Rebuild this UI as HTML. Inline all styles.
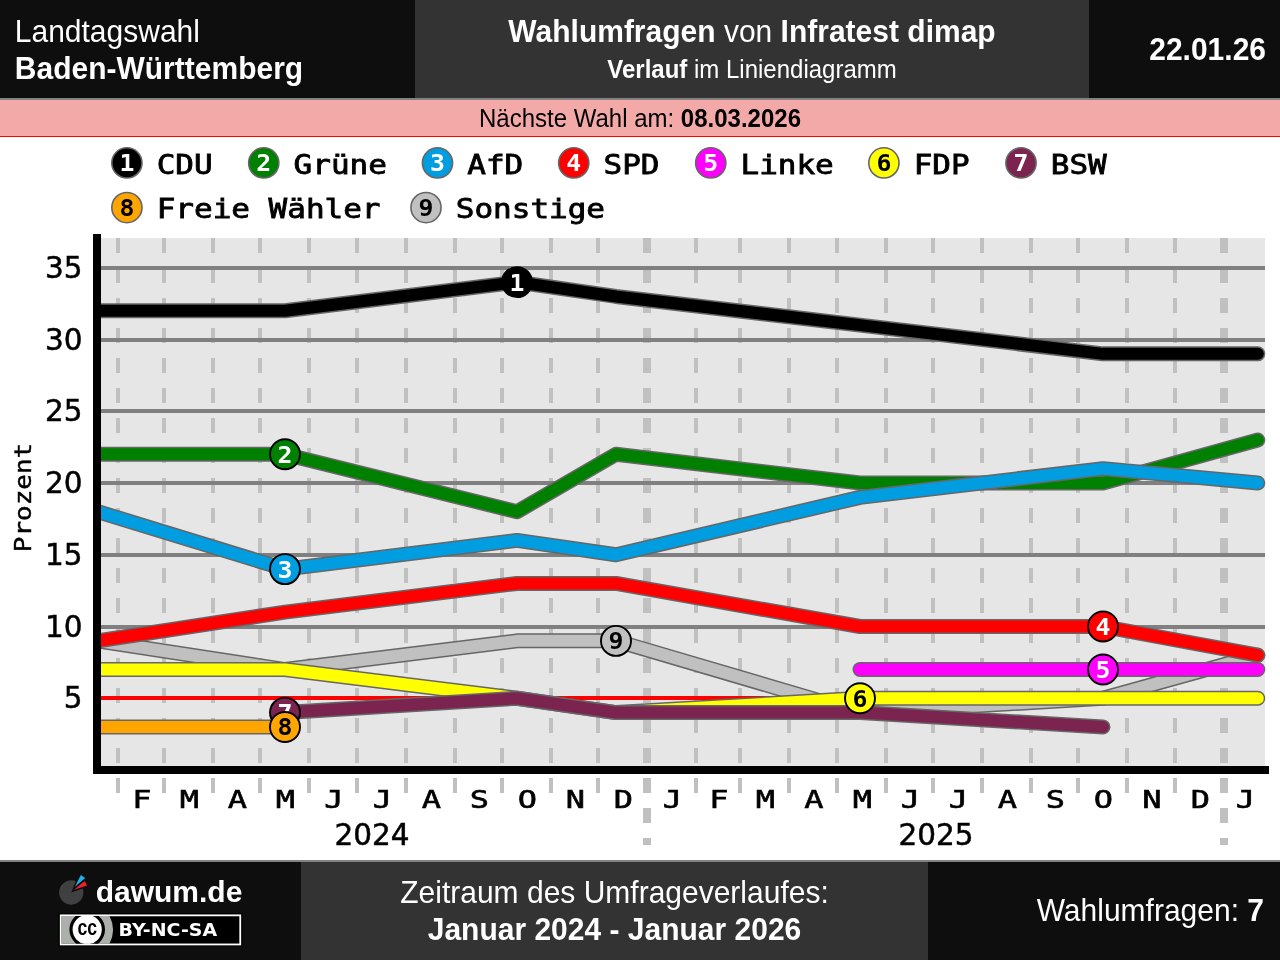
<!DOCTYPE html>
<html lang="de"><head><meta charset="utf-8"><title>Wahlumfragen Baden-Württemberg</title>
<style>
html,body{margin:0;padding:0;background:#fff;}
body{width:1280px;height:960px;position:relative;overflow:hidden;font-family:"Liberation Sans",sans-serif;color:#fff;}
.abs{position:absolute;}
.hd{top:0;height:98px;background:#0e0e0e;}
.ft{top:862px;height:98px;background:#0e0e0e;}
.mid{background:#333;}
.t{white-space:nowrap;line-height:1;transform:scaleY(1.04);transform-origin:0 84.65%;}
</style></head><body>
<div class="abs hd" style="left:0;width:1280px"></div>
<div class="abs hd mid" style="left:415px;width:674px"></div>
<div class="abs" style="left:0;top:98px;width:1280px;height:2px;background:#828282"></div>
<div class="abs" style="left:0;top:100px;width:1280px;height:36px;background:#f4a9a9"></div>
<div class="abs" style="left:0;top:136px;width:1280px;height:1px;background:#f00"></div>
<div class="abs t" style="left:14.8px;top:16.6px;font-size:30px">Landtagswahl</div>
<div class="abs t" style="left:14.8px;top:53.6px;font-size:30px;font-weight:bold">Baden-Württemberg</div>
<div class="abs t" style="left:415px;width:674px;top:16.6px;font-size:30px;text-align:center"><b>Wahlumfragen</b> von <b>Infratest dimap</b></div>
<div class="abs t" style="left:415px;width:674px;top:58.4px;font-size:24px;text-align:center"><b>Verlauf</b> im Liniendiagramm</div>
<div class="abs t" style="right:14px;top:34.9px;font-size:30px;font-weight:bold">22.01.26</div>
<div class="abs t" style="left:0;width:1280px;top:107.4px;font-size:24px;text-align:center;color:#000">Nächste Wahl am: <b>08.03.2026</b></div>
<svg width="1280" height="722" viewBox="0 138 1280 722" style="position:absolute;left:0;top:138px">
<defs><clipPath id="pc"><rect x="101" y="218" width="1184" height="572"/></clipPath></defs>
<rect x="101" y="238" width="1164" height="532" fill="#e6e6e6"/>
<line x1="118" x2="118" y1="238" y2="793" stroke="#c0c0c0" stroke-width="4" stroke-dasharray="15 15"/>
<line x1="164" x2="164" y1="238" y2="793" stroke="#c0c0c0" stroke-width="4" stroke-dasharray="15 15"/>
<line x1="213" x2="213" y1="238" y2="793" stroke="#c0c0c0" stroke-width="4" stroke-dasharray="15 15"/>
<line x1="260" x2="260" y1="238" y2="793" stroke="#c0c0c0" stroke-width="4" stroke-dasharray="15 15"/>
<line x1="309" x2="309" y1="238" y2="793" stroke="#c0c0c0" stroke-width="4" stroke-dasharray="15 15"/>
<line x1="357" x2="357" y1="238" y2="793" stroke="#c0c0c0" stroke-width="4" stroke-dasharray="15 15"/>
<line x1="406" x2="406" y1="238" y2="793" stroke="#c0c0c0" stroke-width="4" stroke-dasharray="15 15"/>
<line x1="455" x2="455" y1="238" y2="793" stroke="#c0c0c0" stroke-width="4" stroke-dasharray="15 15"/>
<line x1="502" x2="502" y1="238" y2="793" stroke="#c0c0c0" stroke-width="4" stroke-dasharray="15 15"/>
<line x1="551" x2="551" y1="238" y2="793" stroke="#c0c0c0" stroke-width="4" stroke-dasharray="15 15"/>
<line x1="598" x2="598" y1="238" y2="793" stroke="#c0c0c0" stroke-width="4" stroke-dasharray="15 15"/>
<line x1="647" x2="647" y1="238" y2="845" stroke="#c0c0c0" stroke-width="8" stroke-dasharray="15 15"/>
<line x1="696" x2="696" y1="238" y2="793" stroke="#c0c0c0" stroke-width="4" stroke-dasharray="15 15"/>
<line x1="740" x2="740" y1="238" y2="793" stroke="#c0c0c0" stroke-width="4" stroke-dasharray="15 15"/>
<line x1="789" x2="789" y1="238" y2="793" stroke="#c0c0c0" stroke-width="4" stroke-dasharray="15 15"/>
<line x1="837" x2="837" y1="238" y2="793" stroke="#c0c0c0" stroke-width="4" stroke-dasharray="15 15"/>
<line x1="886" x2="886" y1="238" y2="793" stroke="#c0c0c0" stroke-width="4" stroke-dasharray="15 15"/>
<line x1="933" x2="933" y1="238" y2="793" stroke="#c0c0c0" stroke-width="4" stroke-dasharray="15 15"/>
<line x1="982" x2="982" y1="238" y2="793" stroke="#c0c0c0" stroke-width="4" stroke-dasharray="15 15"/>
<line x1="1031" x2="1031" y1="238" y2="793" stroke="#c0c0c0" stroke-width="4" stroke-dasharray="15 15"/>
<line x1="1078" x2="1078" y1="238" y2="793" stroke="#c0c0c0" stroke-width="4" stroke-dasharray="15 15"/>
<line x1="1127" x2="1127" y1="238" y2="793" stroke="#c0c0c0" stroke-width="4" stroke-dasharray="15 15"/>
<line x1="1175" x2="1175" y1="238" y2="793" stroke="#c0c0c0" stroke-width="4" stroke-dasharray="15 15"/>
<line x1="1224" x2="1224" y1="238" y2="845" stroke="#c0c0c0" stroke-width="8" stroke-dasharray="15 15"/>
<line x1="101" x2="1265" y1="698" y2="698" stroke="#ff0000" stroke-width="4"/>
<line x1="101" x2="1265" y1="627" y2="627" stroke="#808080" stroke-width="4"/>
<line x1="101" x2="1265" y1="555" y2="555" stroke="#808080" stroke-width="4"/>
<line x1="101" x2="1265" y1="483" y2="483" stroke="#808080" stroke-width="4"/>
<line x1="101" x2="1265" y1="411" y2="411" stroke="#808080" stroke-width="4"/>
<line x1="101" x2="1265" y1="340" y2="340" stroke="#808080" stroke-width="4"/>
<line x1="101" x2="1265" y1="268" y2="268" stroke="#808080" stroke-width="4"/>
<g clip-path="url(#pc)" fill="none" stroke-linecap="round" stroke-linejoin="round">
<polyline points="98,640.85 285,669.55 517,640.85 616,640.85 860,712.60 1103,698.25 1257.8,655.20" stroke="#666666" stroke-width="15.0"/>
<polyline points="98,640.85 285,669.55 517,640.85 616,640.85 860,712.60 1103,698.25 1257.8,655.20" stroke="#c0c0c0" stroke-width="12.0"/>
<polyline points="98,310.80 285,310.80 517,282.10 616,296.45 860,325.15 1103,353.85 1257.8,353.85" stroke="#666666" stroke-width="15.0"/>
<polyline points="98,310.80 285,310.80 517,282.10 616,296.45 860,325.15 1103,353.85 1257.8,353.85" stroke="#000000" stroke-width="12.0"/>
<polyline points="98,640.85 285,612.15 517,583.45 616,583.45 860,626.50 1103,626.50 1257.8,655.20" stroke="#666666" stroke-width="15.0"/>
<polyline points="98,640.85 285,612.15 517,583.45 616,583.45 860,626.50 1103,626.50 1257.8,655.20" stroke="#ff0000" stroke-width="12.0"/>
<polyline points="98,669.55 285,669.55 517,698.25 616,712.60 860,698.25 1103,698.25 1257.8,698.25" stroke="#666666" stroke-width="15.0"/>
<polyline points="98,669.55 285,669.55 517,698.25 616,712.60 860,698.25 1103,698.25 1257.8,698.25" stroke="#ffff00" stroke-width="12.0"/>
<polyline points="98,454.30 285,454.30 517,511.70 616,454.30 860,483.00 1103,483.00 1257.8,439.95" stroke="#666666" stroke-width="15.0"/>
<polyline points="98,454.30 285,454.30 517,511.70 616,454.30 860,483.00 1103,483.00 1257.8,439.95" stroke="#008000" stroke-width="12.0"/>
<polyline points="860,669.55 1103,669.55 1257.8,669.55" stroke="#666666" stroke-width="15.0"/>
<polyline points="860,669.55 1103,669.55 1257.8,669.55" stroke="#ff00ff" stroke-width="12.0"/>
<polyline points="98,511.70 285,569.10 517,540.40 616,554.75 860,497.35 1103,468.65 1257.8,483.00" stroke="#666666" stroke-width="15.0"/>
<polyline points="98,511.70 285,569.10 517,540.40 616,554.75 860,497.35 1103,468.65 1257.8,483.00" stroke="#009ee0" stroke-width="12.0"/>
<polyline points="98,726.95 285,726.95" stroke="#666666" stroke-width="15.0"/>
<polyline points="98,726.95 285,726.95" stroke="#ffa500" stroke-width="12.0"/>
<polyline points="285,712.60 517,698.25 616,712.60 860,712.60 1103,726.95" stroke="#666666" stroke-width="15.0"/>
<polyline points="285,712.60 517,698.25 616,712.60 860,712.60 1103,726.95" stroke="#7b2450" stroke-width="12.0"/>
</g>
<rect x="93" y="234" width="8" height="540" fill="#000"/>
<rect x="93" y="766" width="1176" height="8" fill="#000"/>
<circle cx="517" cy="282.1" r="15" fill="#000000" stroke="#000" stroke-width="1.9"/>
<text transform="translate(517,290.5) scale(1.08,1)" text-anchor="middle" font-family="'DejaVu Sans Mono',monospace" font-weight="bold" font-size="23" fill="#fff">1</text>
<circle cx="285" cy="454.3" r="15" fill="#008000" stroke="#000" stroke-width="1.9"/>
<text transform="translate(285,462.7) scale(1.08,1)" text-anchor="middle" font-family="'DejaVu Sans Mono',monospace" font-weight="bold" font-size="23" fill="#fff">2</text>
<circle cx="285" cy="569.1" r="15" fill="#009ee0" stroke="#000" stroke-width="1.9"/>
<text transform="translate(285,577.5) scale(1.08,1)" text-anchor="middle" font-family="'DejaVu Sans Mono',monospace" font-weight="bold" font-size="23" fill="#fff">3</text>
<circle cx="1103" cy="626.5" r="15" fill="#ff0000" stroke="#000" stroke-width="1.9"/>
<text transform="translate(1103,634.9) scale(1.08,1)" text-anchor="middle" font-family="'DejaVu Sans Mono',monospace" font-weight="bold" font-size="23" fill="#fff">4</text>
<circle cx="1103" cy="669.5" r="15" fill="#ff00ff" stroke="#000" stroke-width="1.9"/>
<text transform="translate(1103,677.9) scale(1.08,1)" text-anchor="middle" font-family="'DejaVu Sans Mono',monospace" font-weight="bold" font-size="23" fill="#fff">5</text>
<circle cx="860" cy="698.2" r="15" fill="#ffff00" stroke="#000" stroke-width="1.9"/>
<text transform="translate(860,706.6) scale(1.08,1)" text-anchor="middle" font-family="'DejaVu Sans Mono',monospace" font-weight="bold" font-size="23" fill="#000">6</text>
<circle cx="285" cy="712.6" r="15" fill="#7b2450" stroke="#000" stroke-width="1.9"/>
<text transform="translate(285,721.0) scale(1.08,1)" text-anchor="middle" font-family="'DejaVu Sans Mono',monospace" font-weight="bold" font-size="23" fill="#fff">7</text>
<circle cx="285" cy="727.0" r="15" fill="#ffa500" stroke="#000" stroke-width="1.9"/>
<text transform="translate(285,735.4) scale(1.08,1)" text-anchor="middle" font-family="'DejaVu Sans Mono',monospace" font-weight="bold" font-size="23" fill="#000">8</text>
<circle cx="616" cy="640.9" r="15" fill="#c0c0c0" stroke="#000" stroke-width="1.9"/>
<text transform="translate(616,649.2) scale(1.08,1)" text-anchor="middle" font-family="'DejaVu Sans Mono',monospace" font-weight="bold" font-size="23" fill="#000">9</text>
<text x="82.5" y="707.8" text-anchor="end" font-family="'DejaVu Sans',sans-serif" font-size="29.5" fill="#000" stroke="#000" stroke-width="0.5">5</text>
<text x="82.5" y="636.8" text-anchor="end" font-family="'DejaVu Sans',sans-serif" font-size="29.5" fill="#000" stroke="#000" stroke-width="0.5">10</text>
<text x="82.5" y="564.8" text-anchor="end" font-family="'DejaVu Sans',sans-serif" font-size="29.5" fill="#000" stroke="#000" stroke-width="0.5">15</text>
<text x="82.5" y="492.8" text-anchor="end" font-family="'DejaVu Sans',sans-serif" font-size="29.5" fill="#000" stroke="#000" stroke-width="0.5">20</text>
<text x="82.5" y="420.8" text-anchor="end" font-family="'DejaVu Sans',sans-serif" font-size="29.5" fill="#000" stroke="#000" stroke-width="0.5">25</text>
<text x="82.5" y="349.8" text-anchor="end" font-family="'DejaVu Sans',sans-serif" font-size="29.5" fill="#000" stroke="#000" stroke-width="0.5">30</text>
<text x="82.5" y="277.8" text-anchor="end" font-family="'DejaVu Sans',sans-serif" font-size="29.5" fill="#000" stroke="#000" stroke-width="0.5">35</text>
<text transform="translate(31.3,497.5) rotate(-90) scale(1.13,1)" text-anchor="middle" font-family="'DejaVu Sans Mono',monospace" font-size="23" fill="#000" stroke="#000" stroke-width="0.4">Prozent</text>
<text transform="translate(141.8,807.6) scale(1.25,1)" text-anchor="middle" font-family="'DejaVu Sans Mono',monospace" font-size="25.6" fill="#000" stroke="#000" stroke-width="0.6">F</text>
<text transform="translate(189.3,807.6) scale(1.25,1)" text-anchor="middle" font-family="'DejaVu Sans Mono',monospace" font-size="25.6" fill="#000" stroke="#000" stroke-width="0.6">M</text>
<text transform="translate(237.3,807.6) scale(1.25,1)" text-anchor="middle" font-family="'DejaVu Sans Mono',monospace" font-size="25.6" fill="#000" stroke="#000" stroke-width="0.6">A</text>
<text transform="translate(285.3,807.6) scale(1.25,1)" text-anchor="middle" font-family="'DejaVu Sans Mono',monospace" font-size="25.6" fill="#000" stroke="#000" stroke-width="0.6">M</text>
<text transform="translate(333.8,807.6) scale(1.25,1)" text-anchor="middle" font-family="'DejaVu Sans Mono',monospace" font-size="25.6" fill="#000" stroke="#000" stroke-width="0.6">J</text>
<text transform="translate(382.3,807.6) scale(1.25,1)" text-anchor="middle" font-family="'DejaVu Sans Mono',monospace" font-size="25.6" fill="#000" stroke="#000" stroke-width="0.6">J</text>
<text transform="translate(431.3,807.6) scale(1.25,1)" text-anchor="middle" font-family="'DejaVu Sans Mono',monospace" font-size="25.6" fill="#000" stroke="#000" stroke-width="0.6">A</text>
<text transform="translate(479.3,807.6) scale(1.25,1)" text-anchor="middle" font-family="'DejaVu Sans Mono',monospace" font-size="25.6" fill="#000" stroke="#000" stroke-width="0.6">S</text>
<text transform="translate(527.3,807.6) scale(1.25,1)" text-anchor="middle" font-family="'DejaVu Sans Mono',monospace" font-size="25.6" fill="#000" stroke="#000" stroke-width="0.6">O</text>
<text transform="translate(575.3,807.6) scale(1.25,1)" text-anchor="middle" font-family="'DejaVu Sans Mono',monospace" font-size="25.6" fill="#000" stroke="#000" stroke-width="0.6">N</text>
<text transform="translate(623.3,807.6) scale(1.25,1)" text-anchor="middle" font-family="'DejaVu Sans Mono',monospace" font-size="25.6" fill="#000" stroke="#000" stroke-width="0.6">D</text>
<text transform="translate(672.3,807.6) scale(1.25,1)" text-anchor="middle" font-family="'DejaVu Sans Mono',monospace" font-size="25.6" fill="#000" stroke="#000" stroke-width="0.6">J</text>
<text transform="translate(718.8,807.6) scale(1.25,1)" text-anchor="middle" font-family="'DejaVu Sans Mono',monospace" font-size="25.6" fill="#000" stroke="#000" stroke-width="0.6">F</text>
<text transform="translate(765.3,807.6) scale(1.25,1)" text-anchor="middle" font-family="'DejaVu Sans Mono',monospace" font-size="25.6" fill="#000" stroke="#000" stroke-width="0.6">M</text>
<text transform="translate(813.8,807.6) scale(1.25,1)" text-anchor="middle" font-family="'DejaVu Sans Mono',monospace" font-size="25.6" fill="#000" stroke="#000" stroke-width="0.6">A</text>
<text transform="translate(862.3,807.6) scale(1.25,1)" text-anchor="middle" font-family="'DejaVu Sans Mono',monospace" font-size="25.6" fill="#000" stroke="#000" stroke-width="0.6">M</text>
<text transform="translate(910.3,807.6) scale(1.25,1)" text-anchor="middle" font-family="'DejaVu Sans Mono',monospace" font-size="25.6" fill="#000" stroke="#000" stroke-width="0.6">J</text>
<text transform="translate(958.3,807.6) scale(1.25,1)" text-anchor="middle" font-family="'DejaVu Sans Mono',monospace" font-size="25.6" fill="#000" stroke="#000" stroke-width="0.6">J</text>
<text transform="translate(1007.3,807.6) scale(1.25,1)" text-anchor="middle" font-family="'DejaVu Sans Mono',monospace" font-size="25.6" fill="#000" stroke="#000" stroke-width="0.6">A</text>
<text transform="translate(1055.3,807.6) scale(1.25,1)" text-anchor="middle" font-family="'DejaVu Sans Mono',monospace" font-size="25.6" fill="#000" stroke="#000" stroke-width="0.6">S</text>
<text transform="translate(1103.3,807.6) scale(1.25,1)" text-anchor="middle" font-family="'DejaVu Sans Mono',monospace" font-size="25.6" fill="#000" stroke="#000" stroke-width="0.6">O</text>
<text transform="translate(1151.8,807.6) scale(1.25,1)" text-anchor="middle" font-family="'DejaVu Sans Mono',monospace" font-size="25.6" fill="#000" stroke="#000" stroke-width="0.6">N</text>
<text transform="translate(1200.3,807.6) scale(1.25,1)" text-anchor="middle" font-family="'DejaVu Sans Mono',monospace" font-size="25.6" fill="#000" stroke="#000" stroke-width="0.6">D</text>
<text transform="translate(1245.3,807.6) scale(1.25,1)" text-anchor="middle" font-family="'DejaVu Sans Mono',monospace" font-size="25.6" fill="#000" stroke="#000" stroke-width="0.6">J</text>
<text x="372" y="845.1" text-anchor="middle" font-family="'DejaVu Sans',sans-serif" font-size="29.5" fill="#000" stroke="#000" stroke-width="0.5">2024</text>
<text x="936" y="845.1" text-anchor="middle" font-family="'DejaVu Sans',sans-serif" font-size="29.5" fill="#000" stroke="#000" stroke-width="0.5">2025</text>
<circle cx="126.9" cy="162.9" r="15.1" fill="#000000" stroke="#666" stroke-width="1.6"/>
<text transform="translate(126.9,171.3) scale(1.08,1)" text-anchor="middle" font-family="'DejaVu Sans Mono',monospace" font-weight="bold" font-size="23" fill="#fff">1</text>
<text transform="translate(156.7,173.5) scale(1.192,1)" font-family="'DejaVu Sans Mono',monospace" font-size="26" fill="#000" stroke="#000" stroke-width="0.8">CDU</text>
<circle cx="263.75" cy="162.9" r="15.1" fill="#008000" stroke="#666" stroke-width="1.6"/>
<text transform="translate(263.75,171.3) scale(1.08,1)" text-anchor="middle" font-family="'DejaVu Sans Mono',monospace" font-weight="bold" font-size="23" fill="#fff">2</text>
<text transform="translate(293.6,173.5) scale(1.192,1)" font-family="'DejaVu Sans Mono',monospace" font-size="26" fill="#000" stroke="#000" stroke-width="0.8">Grüne</text>
<circle cx="437.5" cy="162.9" r="15.1" fill="#009ee0" stroke="#666" stroke-width="1.6"/>
<text transform="translate(437.5,171.3) scale(1.08,1)" text-anchor="middle" font-family="'DejaVu Sans Mono',monospace" font-weight="bold" font-size="23" fill="#fff">3</text>
<text transform="translate(467.3,173.5) scale(1.192,1)" font-family="'DejaVu Sans Mono',monospace" font-size="26" fill="#000" stroke="#000" stroke-width="0.8">AfD</text>
<circle cx="573.75" cy="162.9" r="15.1" fill="#ff0000" stroke="#666" stroke-width="1.6"/>
<text transform="translate(573.75,171.3) scale(1.08,1)" text-anchor="middle" font-family="'DejaVu Sans Mono',monospace" font-weight="bold" font-size="23" fill="#fff">4</text>
<text transform="translate(603.5,173.5) scale(1.192,1)" font-family="'DejaVu Sans Mono',monospace" font-size="26" fill="#000" stroke="#000" stroke-width="0.8">SPD</text>
<circle cx="710.75" cy="162.9" r="15.1" fill="#ff00ff" stroke="#666" stroke-width="1.6"/>
<text transform="translate(710.75,171.3) scale(1.08,1)" text-anchor="middle" font-family="'DejaVu Sans Mono',monospace" font-weight="bold" font-size="23" fill="#fff">5</text>
<text transform="translate(740.5,173.5) scale(1.192,1)" font-family="'DejaVu Sans Mono',monospace" font-size="26" fill="#000" stroke="#000" stroke-width="0.8">Linke</text>
<circle cx="883.9" cy="162.9" r="15.1" fill="#ffff00" stroke="#666" stroke-width="1.6"/>
<text transform="translate(883.9,171.3) scale(1.08,1)" text-anchor="middle" font-family="'DejaVu Sans Mono',monospace" font-weight="bold" font-size="23" fill="#000">6</text>
<text transform="translate(913.7,173.5) scale(1.192,1)" font-family="'DejaVu Sans Mono',monospace" font-size="26" fill="#000" stroke="#000" stroke-width="0.8">FDP</text>
<circle cx="1021" cy="162.9" r="15.1" fill="#7b2450" stroke="#666" stroke-width="1.6"/>
<text transform="translate(1021,171.3) scale(1.08,1)" text-anchor="middle" font-family="'DejaVu Sans Mono',monospace" font-weight="bold" font-size="23" fill="#fff">7</text>
<text transform="translate(1050.8,173.5) scale(1.192,1)" font-family="'DejaVu Sans Mono',monospace" font-size="26" fill="#000" stroke="#000" stroke-width="0.8">BSW</text>
<circle cx="126.9" cy="207.6" r="15.1" fill="#ffa500" stroke="#666" stroke-width="1.6"/>
<text transform="translate(126.9,216.0) scale(1.08,1)" text-anchor="middle" font-family="'DejaVu Sans Mono',monospace" font-weight="bold" font-size="23" fill="#000">8</text>
<text transform="translate(156.7,218.2) scale(1.192,1)" font-family="'DejaVu Sans Mono',monospace" font-size="26" fill="#000" stroke="#000" stroke-width="0.8">Freie Wähler</text>
<circle cx="426" cy="207.6" r="15.1" fill="#c0c0c0" stroke="#666" stroke-width="1.6"/>
<text transform="translate(426,216.0) scale(1.08,1)" text-anchor="middle" font-family="'DejaVu Sans Mono',monospace" font-weight="bold" font-size="23" fill="#000">9</text>
<text transform="translate(455.8,218.2) scale(1.192,1)" font-family="'DejaVu Sans Mono',monospace" font-size="26" fill="#000" stroke="#000" stroke-width="0.8">Sonstige</text>
</svg>
<div class="abs" style="left:0;top:860px;width:1280px;height:2px;background:#828282"></div>
<div class="abs ft" style="left:0;width:1280px"></div>
<div class="abs ft mid" style="left:301px;width:627px"></div>
<div class="abs t" style="left:301px;width:627px;top:878.3px;font-size:30px;text-align:center">Zeitraum des Umfrageverlaufes:</div>
<div class="abs t" style="left:301px;width:627px;top:915.2px;font-size:30px;text-align:center;font-weight:bold">Januar 2024 - Januar 2026</div>
<div class="abs t" style="right:16px;top:896.1px;font-size:30px">Wahlumfragen: <b>7</b></div>
<svg class="abs" style="left:50px;top:865px" width="210" height="90" viewBox="50 865 210 90">
<path d="M71.25,892.4 L75.8,881.1 A12.2,12.2 0 1 0 82.8,888.4 Z" fill="#404042"/>
<path d="M75,886.8 L80.8,874.9 L85.2,878 Z" fill="#1cb0ee"/>
<path d="M74,889.7 L84.6,880.9 L87.1,885.5 Z" fill="#f02028"/>
<text x="95.7" y="901.5" font-family="'Liberation Sans',sans-serif" font-weight="bold" font-size="30" fill="#fff">dawum.de</text>
<rect x="58.4" y="913" width="184.1" height="33.4" fill="#000"/>
<rect x="60.75" y="915.35" width="179.5" height="29.1" fill="#000" stroke="#fff" stroke-width="1.8"/>
<path d="M61.5,916.1 H109.5 A30,30 0 0 1 109.5,943.7 H61.5 Z" fill="#abb1aa"/>
<clipPath id="cb"><rect x="61.5" y="916.1" width="178" height="27.6"/></clipPath>
<g clip-path="url(#cb)"><circle cx="87.2" cy="929.6" r="16.2" fill="#fff" stroke="#000" stroke-width="3.2"/></g>
<text transform="translate(87.2,935.3) scale(0.8,1)" text-anchor="middle" font-family="'Liberation Sans',sans-serif" font-weight="bold" font-size="22" fill="#000">cc</text>
<text transform="translate(118.5,936.1) scale(1.11,1)" font-family="'DejaVu Sans',sans-serif" font-weight="bold" font-size="17.1" fill="#fff">BY-NC-SA</text>
</svg>
</body></html>
